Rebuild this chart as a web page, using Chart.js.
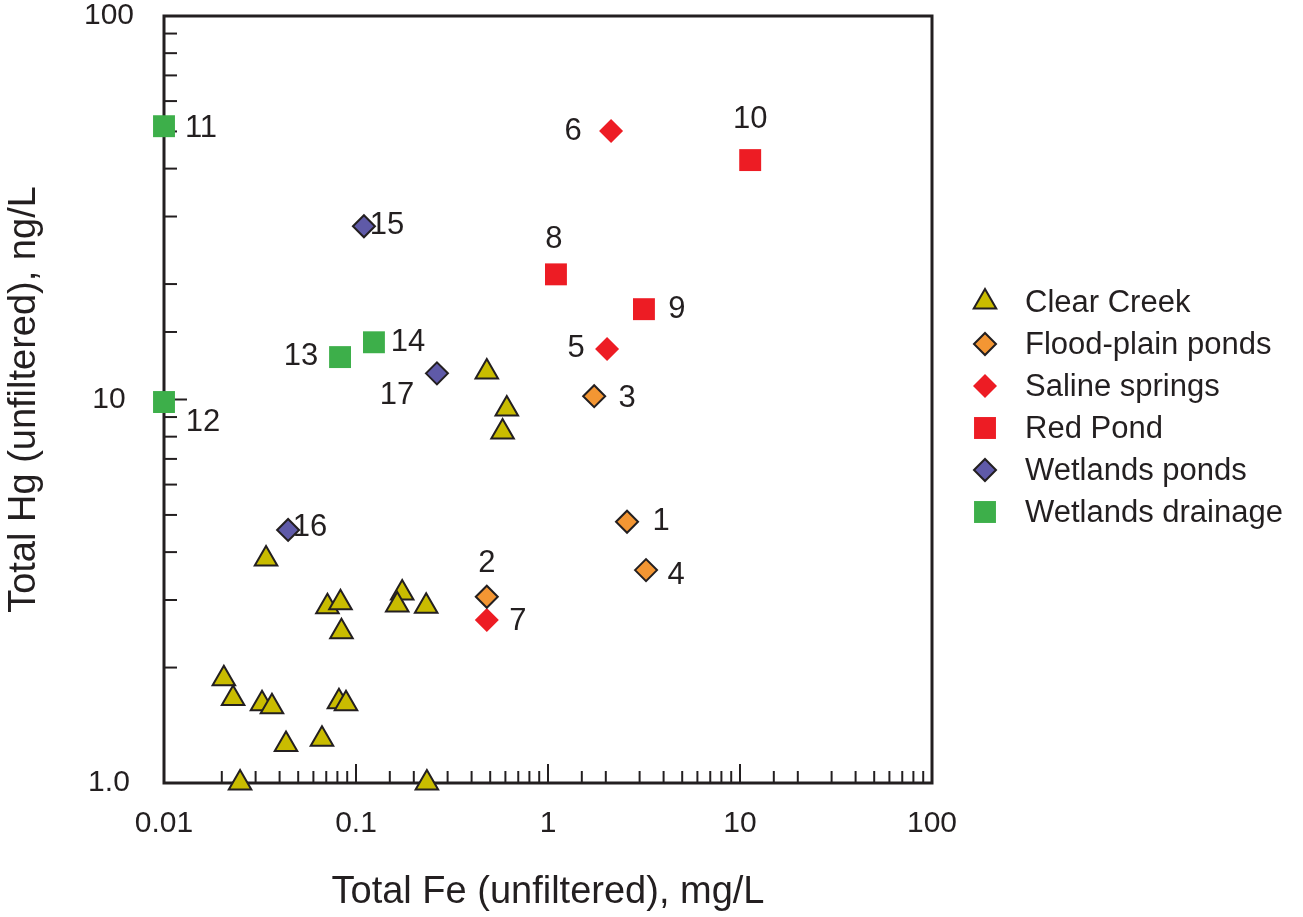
<!DOCTYPE html>
<html>
<head>
<meta charset="utf-8">
<title>Total Hg vs Total Fe</title>
<script src="https://cdn.jsdelivr.net/npm/chart.js@4/dist/chart.umd.min.js"></script>
<style>
  html, body { margin: 0; padding: 0; background: #fff; }
  #wrap { width: 1303px; height: 917px; }
</style>
</head>
<body>
<div id="wrap"><canvas id="hgFeChart"></canvas></div>
<script>
// Data (Fe in mg/L, Hg in ng/L)
const clearCreekFe = [0.48, 0.61, 0.58, 0.034, 0.071, 0.083, 0.084, 0.174, 0.164, 0.232,
                      0.0205, 0.0229, 0.0324, 0.0365, 0.0815, 0.0887, 0.0432, 0.0665, 0.0249, 0.234];
const clearCreekHg = [11.8, 9.45, 8.23, 3.84, 2.88, 2.95, 2.48, 3.13, 2.91, 2.89,
                      1.87, 1.66, 1.61, 1.58, 1.63, 1.61, 1.26, 1.30, 1.0, 1.0];

const floodPlainIds = ['1', '2', '3', '4'];
const floodPlainFe = [2.58, 0.48, 1.74, 3.24];
const floodPlainHg = [4.8, 3.06, 10.2, 3.59];

const salineIds = ['5', '6', '7'];
const salineFe = [2.03, 2.13, 0.48];
const salineHg = [13.55, 50.1, 2.66];

const redPondIds = ['8', '9', '10'];
const redPondFe = [1.10, 3.16, 11.3];
const redPondHg = [21.2, 17.2, 42.1];

const wetPondIds = ['15', '16', '17'];
const wetPondFe = [0.110, 0.0443, 0.264];
const wetPondHg = [28.3, 4.57, 11.7];

const wetDrainIds = ['11', '12', '13', '14'];
const wetDrainFe = [0.01, 0.01, 0.0826, 0.124];
const wetDrainHg = [51.6, 9.85, 12.9, 14.1];

const xTickLabels = ['0.01', '0.1', '1', '10', '100'];
const yTickLabels = ['1.0', '10', '100'];

const FONT = 'Helvetica, Arial, "Liberation Sans", sans-serif';
const INK = '#231f20';

function toPoints(xs, ys) {
  return xs.map((x, i) => ({ x: x, y: ys[i] }));
}

function powerLabel(value, labels) {
  const hit = labels.find(l => Math.abs(Math.log10(Number(l)) - Math.log10(value)) < 1e-6);
  return hit === undefined ? '' : hit;
}

function isDecade(value) {
  const e = Math.log10(value);
  return Math.abs(e - Math.round(e)) < 1e-6;
}

// where each number sits relative to its marker
const labelOffsets = {
  '1': [34, 0], '2': [0, -33], '3': [33, 2], '4': [30, 5],
  '5': [-31, 0], '6': [-38, 0], '7': [31, 1],
  '8': [-2, -35], '9': [33, 0], '10': [0, -41],
  '11': [37, 2], '12': [39, 20], '13': [-39, -1], '14': [34, 0],
  '15': [23, -1], '16': [22, -2], '17': [-40, 22]
};

// frame plus inward ticks (long at decades, short otherwise)
const frameTicks = {
  id: 'frameTicks',
  beforeDatasetsDraw(chart) {
    const { ctx, chartArea: a, scales } = chart;
    ctx.save();
    ctx.strokeStyle = INK;
    ctx.lineWidth = 2;
    scales.x.ticks.forEach(t => {
      const px = scales.x.getPixelForValue(t.value);
      const len = isDecade(t.value) ? 19 : 12;
      ctx.beginPath();
      ctx.moveTo(px, a.bottom);
      ctx.lineTo(px, a.bottom - len);
      ctx.stroke();
    });
    scales.y.ticks.forEach(t => {
      const py = scales.y.getPixelForValue(t.value);
      const len = isDecade(t.value) ? 23 : 13;
      ctx.beginPath();
      ctx.moveTo(a.left, py);
      ctx.lineTo(a.left + len, py);
      ctx.stroke();
    });
    ctx.lineWidth = 3;
    ctx.strokeRect(a.left, a.top, a.right - a.left, a.bottom - a.top);
    ctx.restore();
  }
};

// sample numbers next to markers
const pointNumbers = {
  id: 'pointNumbers',
  afterDatasetsDraw(chart) {
    const { ctx } = chart;
    ctx.save();
    ctx.font = '31px ' + FONT;
    ctx.fillStyle = INK;
    ctx.textAlign = 'center';
    ctx.textBaseline = 'middle';
    chart.data.datasets.forEach((ds, di) => {
      if (!ds.ids) return;
      const meta = chart.getDatasetMeta(di);
      meta.data.forEach((pt, i) => {
        const id = ds.ids[i];
        const off = labelOffsets[id] || [0, 0];
        ctx.fillText(id, pt.x + off[0], pt.y + off[1]);
      });
    });
    ctx.restore();
  }
};

// legend to the right of the frame
const sideLegend = {
  id: 'sideLegend',
  afterDraw(chart) {
    const { ctx, chartArea: a } = chart;
    const markX = a.right + 53;
    const textX = a.right + 93;
    let y = 302;
    ctx.save();
    ctx.font = '31px ' + FONT;
    ctx.textAlign = 'left';
    ctx.textBaseline = 'middle';
    chart.data.datasets.forEach(ds => {
      ctx.fillStyle = ds.backgroundColor;
      ctx.strokeStyle = ds.borderColor;
      ctx.lineWidth = ds.borderWidth;
      Chart.helpers.drawPoint(ctx, {
        pointStyle: ds.pointStyle,
        radius: ds.pointRadius,
        rotation: 0,
        borderWidth: ds.borderWidth
      }, markX, y);
      ctx.fillStyle = INK;
      ctx.fillText(ds.label, textX, y + 1);
      y += 42;
    });
    ctx.restore();
  }
};

const ctx = document.getElementById('hgFeChart').getContext('2d');
const hgFeChart = new Chart(ctx, {
  type: 'scatter',
  data: {
    datasets: [
      {
        label: 'Clear Creek',
        data: toPoints(clearCreekFe, clearCreekHg),
        pointStyle: 'triangle',
        pointRadius: 13,
        backgroundColor: '#c9bc00',
        borderColor: INK,
        borderWidth: 2,
        clip: false
      },
      {
        label: 'Flood-plain ponds',
        ids: floodPlainIds,
        data: toPoints(floodPlainFe, floodPlainHg),
        pointStyle: 'rectRot',
        pointRadius: 11,
        backgroundColor: '#f39633',
        borderColor: INK,
        borderWidth: 2,
        clip: false
      },
      {
        label: 'Saline springs',
        ids: salineIds,
        data: toPoints(salineFe, salineHg),
        pointStyle: 'rectRot',
        pointRadius: 12,
        backgroundColor: '#ed1c24',
        borderColor: '#ed1c24',
        borderWidth: 0,
        clip: false
      },
      {
        label: 'Red Pond',
        ids: redPondIds,
        data: toPoints(redPondFe, redPondHg),
        pointStyle: 'rect',
        pointRadius: 15.5,
        backgroundColor: '#ed1c24',
        borderColor: '#ed1c24',
        borderWidth: 0,
        clip: false
      },
      {
        label: 'Wetlands ponds',
        ids: wetPondIds,
        data: toPoints(wetPondFe, wetPondHg),
        pointStyle: 'rectRot',
        pointRadius: 11,
        backgroundColor: '#5f5aa8',
        borderColor: INK,
        borderWidth: 2,
        clip: false
      },
      {
        label: 'Wetlands drainage',
        ids: wetDrainIds,
        data: toPoints(wetDrainFe, wetDrainHg),
        pointStyle: 'rect',
        pointRadius: 15.5,
        backgroundColor: '#3daf4a',
        borderColor: '#3daf4a',
        borderWidth: 0,
        clip: false
      }
    ]
  },
  options: {
    responsive: true,
    maintainAspectRatio: false,
    animation: false,
    events: [],
    layout: { padding: { top: 16, right: 371, bottom: 0, left: 0 } },
    plugins: {
      legend: { display: false },
      tooltip: { enabled: false }
    },
    scales: {
      x: {
        type: 'logarithmic',
        position: 'bottom',
        min: 0.01,
        max: 100,
        grid: { display: false, drawTicks: false },
        border: { display: false },
        ticks: {
          autoSkip: false,
          maxRotation: 0,
          padding: 26,
          color: INK,
          font: { family: FONT, size: 30, lineHeight: 1 },
          callback: (v) => powerLabel(v, xTickLabels)
        },
        title: {
          display: true,
          text: 'Total Fe (unfiltered), mg/L',
          color: INK,
          font: { family: FONT, size: 38 },
          padding: { top: 0, bottom: 2 }
        },
        afterFit: (scale) => {
          scale.height = 134;
          scale.paddingLeft = 0;
          scale.paddingRight = 0;
        }
      },
      y: {
        type: 'logarithmic',
        position: 'left',
        min: 1,
        max: 100,
        grid: { display: false, drawTicks: false },
        border: { display: false },
        ticks: {
          autoSkip: false,
          crossAlign: 'center',
          padding: 30,
          color: INK,
          font: { family: FONT, size: 30, lineHeight: 1 },
          callback: (v) => powerLabel(v, yTickLabels)
        },
        title: {
          display: true,
          text: 'Total Hg (unfiltered), ng/L',
          color: INK,
          font: { family: FONT, size: 38 },
          padding: { top: 2, bottom: 0 }
        },
        afterFit: (scale) => {
          scale.width = 164;
          scale.paddingTop = 0;
          scale.paddingBottom = 0;
        }
      }
    }
  },
  plugins: [frameTicks, pointNumbers, sideLegend]
});
</script>
</body>
</html>
